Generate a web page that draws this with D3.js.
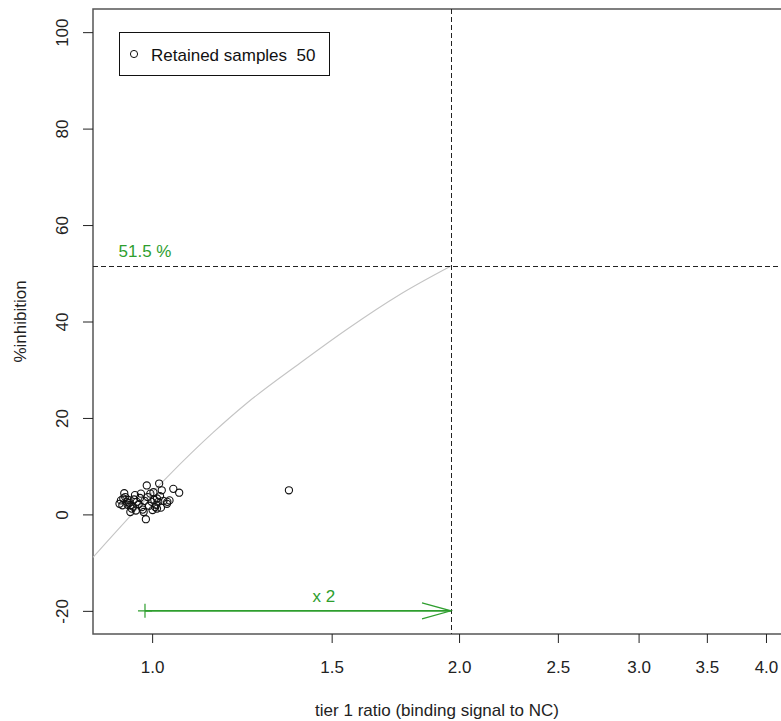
<!DOCTYPE html>
<html>
<head>
<meta charset="utf-8">
<script src="https://cdn.jsdelivr.net/npm/d3@7"></script>
<style>
  html, body { margin: 0; padding: 0; background: #fff; }
  svg { display: block; font-family: "Liberation Sans", Arial, sans-serif; }
</style>
</head>
<body>
<svg id="chart" width="781" height="721"></svg>
<script>
// ---- data ----
const sampleRatio = [0.929,0.939,0.937,0.944,0.952,0.955,0.952,0.962,0.966,0.975,
  0.977,0.981,0.986,0.988,0.996,0.999,1.003,1.007,1.011,1.011,
  1.016,1.022,1.014,1.035,1.040,1.034,1.049,1.063,0.932,0.935,
  0.941,0.946,0.948,0.950,0.958,0.960,0.964,0.970,0.973,0.979,
  0.983,0.990,0.993,1.001,1.005,1.009,1.018,1.020,1.026,1.362];
const sampleInhibition = [2.2,4.4,3.3,2.6,1.9,1.2,0.5,4.0,2.6,4.3,
  1.5,0.5,-1.0,6.0,4.3,2.6,4.6,1.5,3.3,1.2,
  6.4,5.0,2.6,2.6,2.9,2.2,5.3,4.5,2.9,1.9,
  3.6,2.0,3.0,2.4,1.6,3.1,0.8,2.1,3.4,1.0,
  2.8,3.6,1.8,0.9,3.0,2.0,3.8,1.4,2.8,5.0];
const curveRatio = [0.875,1.034,1.148,1.239,1.397,1.553,1.750,1.964];
const curveInhibition = [-8.9,7.7,17.0,23.1,31.4,38.4,45.6,51.5];
const baseRatio = 0.984;
const cutoffRatio = 1.964;
const cutoffInhibition = 51.5;
const arrowLevel = -20;
const xTicks = [1.0,1.5,2.0,2.5,3.0,3.5,4.0];
const xTickLabels = ["1.0","1.5","2.0","2.5","3.0","3.5","4.0"];
const yTicks = [-20,0,20,40,60,80,100];
const yTickLabels = ["-20","0","20","40","60","80","100"];
const legendLabel = "Retained samples  50";
const cutoffLabel = "51.5 %";
const foldLabel = "x 2";
const xTitle = "tier 1 ratio (binding signal to NC)";
const yTitle = "%inhibition";

// ---- layout ----
const L = 93, R = 798, T = 9, B = 634;
const green = "#2e9e2e";
const svg = d3.select("#chart");
const x = d3.scaleLog().domain([0.875, 4.3]).range([L, R]);
const y = d3.scaleLinear().domain([-24.8, 104.8]).range([B, T]);
const crisp = v => Math.round(v) + 0.5;

// frame
svg.append("rect").attr("x", L).attr("y", T).attr("width", R - L).attr("height", B - T)
  .attr("fill", "none").attr("stroke", "#555").attr("stroke-width", 1.5);

// axes
const xAxis = d3.axisBottom(x).tickValues(xTicks).tickFormat((d, i) => xTickLabels[i]).tickSizeOuter(0).tickSize(9).tickPadding(18);
const gx = svg.append("g").attr("transform", `translate(0,${B})`).call(xAxis);
gx.select(".domain").remove();
gx.selectAll("text").attr("font-size", 17).attr("fill", "#222").attr("font-family", "Liberation Sans, Arial, sans-serif");
gx.selectAll("line").attr("stroke", "#222");

const yAxis = d3.axisLeft(y).tickValues(yTicks).tickFormat((d, i) => yTickLabels[i]).tickSizeOuter(0).tickSize(10).tickPadding(0);
const gy = svg.append("g").attr("transform", `translate(${L},0)`).call(yAxis);
gy.select(".domain").remove();
gy.selectAll("line").attr("stroke", "#222");
gy.selectAll("text").remove();
gy.selectAll(".tick").append("text")
  .attr("transform", "translate(-25,0) rotate(-90)")
  .attr("text-anchor", "middle")
  .attr("font-size", 17).attr("fill", "#222")
  .text((d, i) => yTickLabels[i]);

// titles
svg.append("text").attr("x", 437).attr("y", 716).attr("text-anchor", "middle")
  .attr("font-size", 17).attr("fill", "#222").text(xTitle);
svg.append("text").attr("transform", `translate(26,${(T + B) / 2}) rotate(-90)`).attr("text-anchor", "middle")
  .attr("font-size", 17).attr("fill", "#222").text(yTitle);

// fitted curve
const curveData = curveRatio.map((r, i) => [r, curveInhibition[i]]);
svg.append("path").datum(curveData)
  .attr("d", d3.line().x(d => x(d[0])).y(d => y(d[1])).curve(d3.curveMonotoneX))
  .attr("fill", "none").attr("stroke", "#c4c4c4").attr("stroke-width", 1.1);

// cutoff dashed lines
const hy = crisp(y(cutoffInhibition)), vx = crisp(x(cutoffRatio));
svg.append("line").attr("x1", L).attr("x2", R).attr("y1", hy).attr("y2", hy)
  .attr("stroke", "#222").attr("stroke-dasharray", "5,3");
svg.append("line").attr("x1", vx).attr("x2", vx).attr("y1", T).attr("y2", B)
  .attr("stroke", "#222").attr("stroke-dasharray", "5,3");

// points
svg.append("g").selectAll("circle").data(sampleRatio).join("circle")
  .attr("cx", d => x(d)).attr("cy", (d, i) => y(sampleInhibition[i])).attr("r", 3.6)
  .attr("fill", "none").attr("stroke", "#111").attr("stroke-width", 1.1);

// cutoff label
svg.append("text").attr("x", x(baseRatio)).attr("y", y(cutoffInhibition) - 9).attr("text-anchor", "middle")
  .attr("font-size", 17).attr("fill", green).text(cutoffLabel);

// fold arrow
const ax0 = x(baseRatio), ax1 = x(cutoffRatio), ay = y(arrowLevel);
svg.append("line").attr("x1", ax0).attr("x2", ax1).attr("y1", ay).attr("y2", ay)
  .attr("stroke", green).attr("stroke-width", 1.6);
svg.append("path").attr("d", `M${ax1 - 29},${ay - 8}L${ax1},${ay}L${ax1 - 29},${ay + 8}`)
  .attr("fill", "none").attr("stroke", green).attr("stroke-width", 1.2);
svg.append("path").attr("d", `M${ax0 - 7},${ay}H${ax0 + 7}M${ax0},${ay - 7}V${ay + 7}`)
  .attr("stroke", green).attr("stroke-width", 1.2);
svg.append("text").attr("x", x((baseRatio + cutoffRatio) / 2)).attr("y", ay - 9).attr("text-anchor", "middle")
  .attr("font-size", 17).attr("fill", green).text(foldLabel);

// legend
svg.append("rect").attr("x", 119.5).attr("y", 32.5).attr("width", 210).attr("height", 43)
  .attr("fill", "#fff").attr("stroke", "#111").attr("stroke-width", 1);
svg.append("circle").attr("cx", 134).attr("cy", 54).attr("r", 3.6).attr("fill", "none").attr("stroke", "#111");
svg.append("text").attr("x", 151).attr("y", 61).attr("font-size", 17).attr("fill", "#111")
  .attr("xml:space", "preserve").style("white-space", "pre").text(legendLabel);
</script>
</body>
</html>
